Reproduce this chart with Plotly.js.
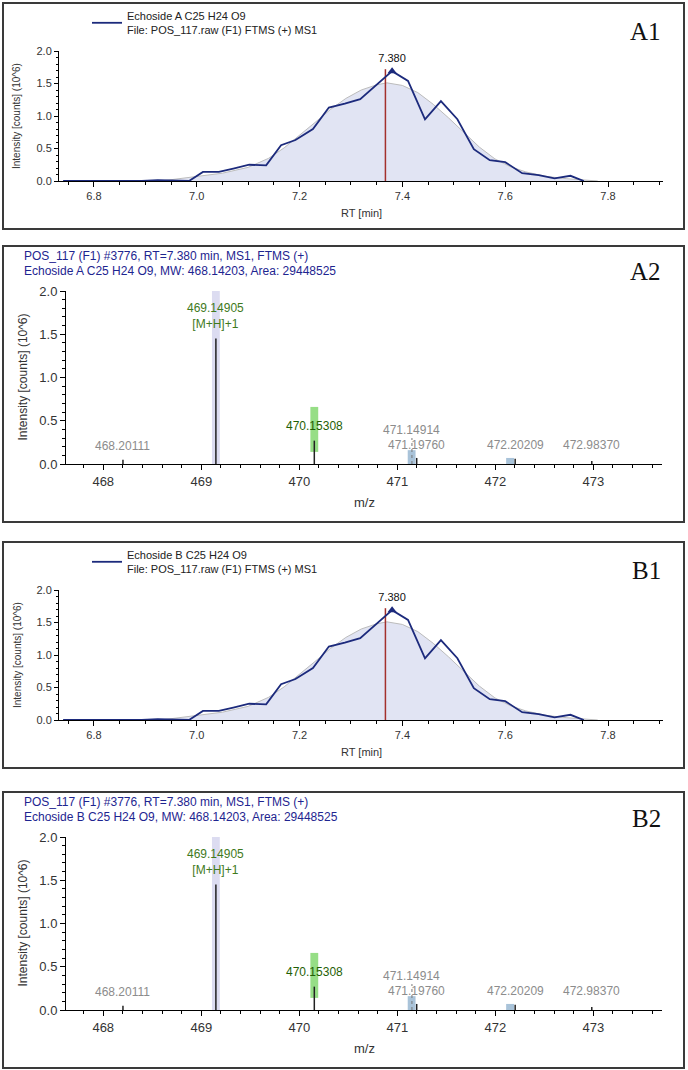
<!DOCTYPE html>
<html>
<head>
<meta charset="utf-8">
<script src="https://cdn.plot.ly/plotly-3.0.1.min.js"></script>
<style>
html,body{margin:0;padding:0;background:#fff;}
#chart{width:688px;height:1070px;}
</style>
</head>
<body>
<div id="chart"></div>
<script>
// ---------- DATA ----------
// Chromatogram (RT in min, intensity in 10^6 counts)
const rtScan = [6.740,6.771,6.801,6.832,6.863,6.893,6.924,6.955,6.985,7.012,7.043,7.071,7.102,7.135,7.164,7.192,7.226,7.257,7.288,7.318,7.349,7.380,7.411,7.444,7.475,7.507,7.539,7.570,7.600,7.633,7.665,7.696,7.727,7.753];
const intScan = [0,0,0,0,0,0,0.015,0.005,0,0.14,0.14,0.19,0.25,0.24,0.55,0.63,0.80,1.13,1.19,1.26,1.48,1.69,1.54,0.95,1.23,0.95,0.49,0.32,0.29,0.12,0.09,0.04,0.08,0];
// Smoothed (fitted) peak shape
const rtFit = [6.93,6.96,7.00,7.05,7.10,7.14,7.17,7.20,7.23,7.26,7.29,7.32,7.35,7.37,7.40,7.43,7.46,7.49,7.52,7.55,7.58,7.61,7.64,7.68,7.72,7.755,7.78];
const intFit = [0,0.03,0.07,0.12,0.21,0.35,0.51,0.70,0.90,1.10,1.27,1.40,1.48,1.51,1.47,1.36,1.18,0.97,0.74,0.52,0.34,0.22,0.14,0.07,0.035,0.015,0];
const apexRt = 7.380, apexInt = 1.69, apexLabel = "7.380";
const markerRt = 7.367, markerTop = 1.72;

// Mass spectrum sticks (m/z, intensity 10^6)
const peakMz = [468.20111, 469.14905, 470.15308, 471.19760, 472.20209, 472.98370];
const peakInt = [0.05, 1.45, 0.27, 0.07, 0.06, 0.035];
const dottedMz = [471.14914];
const dottedInt = [0.30];
// Labels
const labelText = ["468.20111", "469.14905<br>[M+H]+1", "470.15308", "471.14914", "471.19760", "472.20209", "472.98370"];
const labelMz = [468.20111, 469.14905, 470.15308, 471.14914, 471.19760, 472.20209, 472.98370];
const labelY = [0.21, 1.71, 0.44, 0.39, 0.22, 0.22, 0.22];
const labelColor = ["#8c8c8c", "#3f7a1c", "#1f5f05", "#8c8c8c", "#8c8c8c", "#8c8c8c", "#8c8c8c"];
// Theoretical isotope bands
const bandMz = [469.149, 470.153, 471.146, 472.150];
const bandLow = [0, 0.14, 0, 0];
const bandHigh = [2.0, 0.66, 0.16, 0.07];
const bandColor = ["#dcdcf1", "#96de86", "#a9c3d9", "#a9c3d9"];

const compounds = ["Echoside A", "Echoside B"];
const panelLabels = [["A1","A2"],["B1","B2"]];

// ---------- LAYOUT GEOMETRY (pixels) ----------
const W = 688, H = 1070;
const FONT = "Liberation Sans, Arial, sans-serif";
const px = v => v / W;
const py = v => 1 - v / H;

const chromTop = [3, 542];
const specTop = [246, 792];

const traces = [];
const annotations = [];
const shapes = [];
const layout = {
  width: W, height: H,
  margin: {l:0, r:0, t:0, b:0},
  paper_bgcolor: "#fff", plot_bgcolor: "#fff",
  font: {family: FONT, color: "#333"},
  showlegend: true,
  annotations: annotations,
  shapes: shapes,
  barmode: "overlay"
};

function box(top, bottom) {
  shapes.push({type:"rect", xref:"paper", yref:"paper",
    x0:px(3), x1:px(684), y0:py(bottom), y1:py(top),
    line:{color:"#3a3a3a", width:2}, fillcolor:"rgba(0,0,0,0)", layer:"below"});
}

function ann(x, y, text, opts) {
  annotations.push(Object.assign({xref:"paper", yref:"paper", x:px(x), y:py(y), text:text,
    showarrow:false, font:{family:FONT, size:11, color:"#333"}, xanchor:"center", yanchor:"middle"}, opts||{}));
}

for (let c = 0; c < 2; c++) {
  const name = compounds[c];
  const ci = 2*c + 1, si = 2*c + 2;
  const cx = "x" + (ci===1?"":ci), cy = "y" + (ci===1?"":ci);
  const sx = "x" + si, sy = "y" + si;
  const t0 = chromTop[c];
  const yTop = t0 + 48, yBot = t0 + 178;
  layout["xaxis" + (ci===1?"":ci)] = {
    domain:[px(59), px(663)], anchor: cy, range:[6.732, 7.907],
    tick0:6.8, dtick:0.2, tickformat:".1f", ticks:"outside", ticklen:5, tickcolor:"#000",
    showline:true, linecolor:"#000", linewidth:1, showgrid:false, zeroline:false,
    tickfont:{size:11, color:"#333", family:FONT},
    minor:{tick0:6.8, dtick:0.05, ticks:"outside", ticklen:3, tickcolor:"#000", showgrid:false}
  };
  layout["yaxis" + (ci===1?"":ci)] = {
    domain:[py(yBot), py(yTop)], anchor: cx, range:[0, 2.0],
    dtick:0.5, tickformat:".1f", ticks:"outside", ticklen:4, tickcolor:"#000",
    showline:true, linecolor:"#000", linewidth:1, showgrid:false, zeroline:false,
    tickfont:{size:11, color:"#333", family:FONT},
    minor:{dtick:0.1, ticks:"outside", ticklen:2, tickcolor:"#000", showgrid:false}
  };
  traces.push({type:"scatter", mode:"lines", x:rtFit, y:intFit, xaxis:cx, yaxis:cy,
    fill:"tozeroy", fillcolor:"#e1e4f3", line:{color:"#bcbcbc", width:1}, showlegend:false, hoverinfo:"skip"});
  traces.push({type:"scatter", mode:"lines", x:[markerRt, markerRt], y:[0, markerTop], xaxis:cx, yaxis:cy,
    line:{color:"#a3302c", width:1.5}, showlegend:false, hoverinfo:"skip"});
  traces.push({type:"scatter", mode:"lines", x:rtScan, y:intScan, xaxis:cx, yaxis:cy,
    line:{color:"#1c2a7c", width:1.8}, name: name + " C25 H24 O9<br>File: POS_117.raw (F1) FTMS (+) MS1",
    legend: c===0 ? "legend" : "legend2", showlegend:true});
  traces.push({type:"scatter", mode:"markers+text", x:[apexRt], y:[apexInt], xaxis:cx, yaxis:cy,
    marker:{symbol:"triangle-up", size:8, color:"#1c2a7c"}, text:[apexLabel], textposition:"top center",
    textfont:{size:11, color:"#111", family:FONT}, showlegend:false, cliponaxis:false, hoverinfo:"skip"});
  const lg = {x:px(87), y:py(t0 + 20), xanchor:"left", yanchor:"middle", bgcolor:"rgba(0,0,0,0)",
    borderwidth:0, font:{size:11, color:"#222", family:FONT}, valign:"middle", tracegroupgap:0};
  layout[c===0 ? "legend" : "legend2"] = lg;
  box(t0, t0 + 226);
  ann(663, t0 + 28, panelLabels[c][0], {xanchor:"right", font:{family:"Liberation Serif, Times New Roman, serif", size:25, color:"#111"}});
  ann(17, (yTop + yBot)/2, "Intensity [counts] (10^6)", {textangle:-90, font:{family:FONT, size:10, color:"#333"}});
  ann(361, t0 + 210, "RT [min]", {font:{family:FONT, size:11, color:"#333"}});

  const s0 = specTop[c];
  const sTop = s0 + 45, sBot = s0 + 218;
  layout["xaxis" + si] = {
    domain:[px(66), px(662)], anchor: sy, range:[467.62, 473.70],
    tick0:468, dtick:1, ticks:"outside", ticklen:5, tickcolor:"#000",
    showline:true, linecolor:"#000", linewidth:1, showgrid:false, zeroline:false,
    tickfont:{size:13, color:"#333", family:FONT},
    minor:{tick0:468, dtick:0.2, ticks:"outside", ticklen:3, tickcolor:"#000", showgrid:false}
  };
  layout["yaxis" + si] = {
    domain:[py(sBot), py(sTop)], anchor: sx, range:[0, 2.0],
    dtick:0.5, tickformat:".1f", ticks:"outside", ticklen:5, tickcolor:"#000",
    showline:true, linecolor:"#000", linewidth:1, showgrid:false, zeroline:false,
    tickfont:{size:13, color:"#333", family:FONT},
    minor:{dtick:0.1, ticks:"outside", ticklen:3, tickcolor:"#000", showgrid:false}
  };
  traces.push({type:"bar", x:bandMz, y:bandHigh.map((h,i)=>h - bandLow[i]), base:bandLow, width:0.08,
    xaxis:sx, yaxis:sy, marker:{color:bandColor, line:{width:0}}, showlegend:false, hoverinfo:"skip"});
  const stx = [], sty = [];
  peakMz.forEach((m,i)=>{ stx.push(m, m, null); sty.push(0, peakInt[i], null); });
  traces.push({type:"scatter", mode:"lines", x:stx, y:sty, xaxis:sx, yaxis:sy,
    line:{color:"#222", width:1.5}, showlegend:false, hoverinfo:"skip"});
  const dx = [], dy = [];
  dottedMz.forEach((m,i)=>{ dx.push(m, m, null); dy.push(0, dottedInt[i], null); });
  traces.push({type:"scatter", mode:"lines", x:dx, y:dy, xaxis:sx, yaxis:sy,
    line:{color:"#777", width:1, dash:"dot"}, showlegend:false, hoverinfo:"skip"});
  labelText.forEach((t,i)=>{
    annotations.push({xref:sx, yref:sy, x:labelMz[i], y:labelY[i], text:t, showarrow:false,
      xanchor:"center", yanchor:"middle", font:{family:FONT, size:12, color:labelColor[i]}});
  });
  box(s0, s0 + 276);
  ann(663, s0 + 26, panelLabels[c][1], {xanchor:"right", font:{family:"Liberation Serif, Times New Roman, serif", size:25, color:"#111"}});
  ann(22, s0 + 10, "POS_117 (F1) #3776, RT=7.380 min, MS1, FTMS (+)", {xanchor:"left", font:{family:FONT, size:12, color:"#1e2590"}});
  ann(22, s0 + 25, name + " C25 H24 O9, MW: 468.14203, Area: 29448525", {xanchor:"left", font:{family:FONT, size:12, color:"#1e2590"}});
  ann(22, (sTop + sBot)/2, "Intensity [counts] (10^6)", {textangle:-90, font:{family:FONT, size:12, color:"#333"}});
  ann(364, s0 + 256, "m/z", {font:{family:FONT, size:13, color:"#333"}});
}

Plotly.newPlot("chart", traces, layout, {staticPlot:true, displayModeBar:false});
</script>
</body>
</html>
